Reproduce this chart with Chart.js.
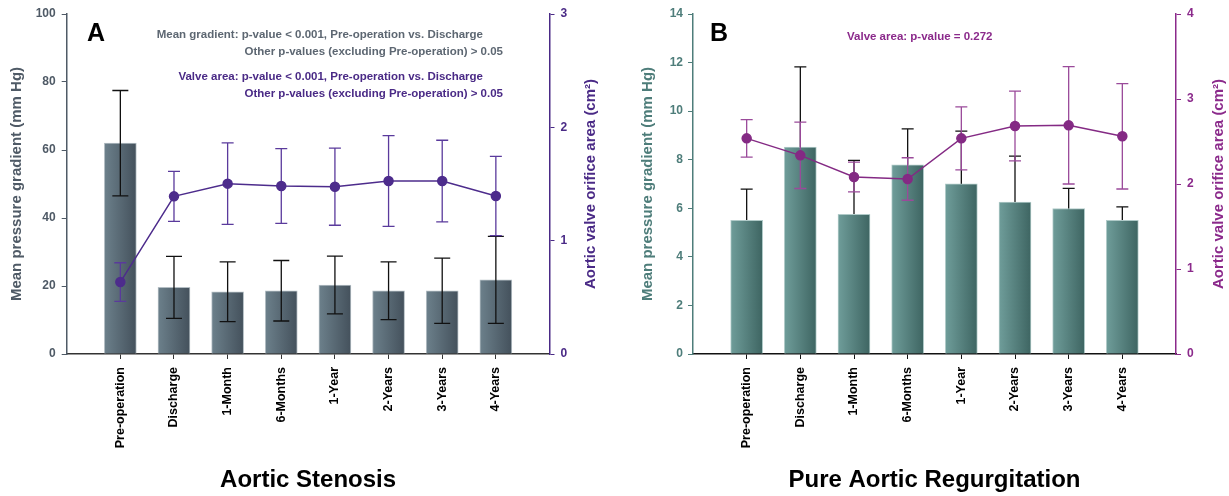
<!DOCTYPE html>
<html>
<head>
<meta charset="utf-8">
<script src="https://cdn.jsdelivr.net/npm/chart.js@4/dist/chart.umd.min.js"></script>
<style>
  body { margin: 0; background: #fff; }
  .panel { position: absolute; top: 0; height: 496px; }
</style>
</head>
<body>
<div class="panel" style="left:0;width:620px"><canvas id="chartA" width="620" height="496"></canvas></div>
<div class="panel" style="left:620px;width:609px"><canvas id="chartB" width="609" height="496"></canvas></div>
<script>
const categories = ['Pre-operation', 'Discharge', '1-Month', '6-Months', '1-Year', '2-Years', '3-Years', '4-Years'];

// A: aortic stenosis
const asGradient = [62.0, 19.6, 18.3, 18.6, 20.3, 18.6, 18.6, 21.8];
const asGradientSd = [15.5, 9.1, 8.8, 8.9, 8.5, 8.5, 9.6, 12.8];
const asArea = [0.635, 1.391, 1.503, 1.482, 1.476, 1.526, 1.526, 1.394];
const asAreaSd = [0.17, 0.22, 0.36, 0.33, 0.34, 0.40, 0.36, 0.35];

// B: pure aortic regurgitation
const arGradient = [5.50, 8.52, 5.75, 7.79, 7.01, 6.26, 5.99, 5.50];
const arGradientSd = [1.29, 3.30, 2.22, 1.48, 2.17, 1.89, 0.83, 0.56];
const arArea = [2.537, 2.337, 2.082, 2.059, 2.537, 2.682, 2.690, 2.561];
const arAreaSd = [0.22, 0.39, 0.175, 0.25, 0.37, 0.41, 0.69, 0.62];

const gradientTicksA = [0, 20, 40, 60, 80, 100];
const areaTicksA = [0, 1, 2, 3];
const gradientTicksB = [0, 2, 4, 6, 8, 10, 12, 14];
const areaTicksB = [0, 1, 2, 3, 4];

const FONT = 'Liberation Sans, Arial, sans-serif';

// draws mean +/- sd whiskers for a dataset, before or after the dataset itself
function drawErr(chart, args, when) {
  const ds = chart.data.datasets[args.index];
  if (!ds.err || ds.errWhen !== when) return;
  const ys = chart.scales[args.meta.yAxisID];
  const ctx = chart.ctx;
  ctx.save();
  ctx.strokeStyle = ds.errColor;
  ctx.lineWidth = ds.errWidth;
  args.meta.data.forEach((el, i) => {
    const v = ds.data[i].y, e = ds.err[i];
    const top = ys.getPixelForValue(v + e), bot = ys.getPixelForValue(v - e);
    const h = ds.capWidth / 2;
    ctx.beginPath();
    ctx.moveTo(el.x, top); ctx.lineTo(el.x, bot);
    ctx.moveTo(el.x - h, top); ctx.lineTo(el.x + h, top);
    ctx.moveTo(el.x - h, bot); ctx.lineTo(el.x + h, bot);
    ctx.stroke();
  });
  ctx.restore();
}

const errorBars = {
  id: 'errorBars',
  beforeDatasetDraw(chart, args) { drawErr(chart, args, 'before'); },
  afterDatasetDraw(chart, args) { drawErr(chart, args, 'after'); }
};

// right axis title reads bottom-to-top, and free text notes
const extras = {
  id: 'extras',
  afterDraw(chart, args, opts) {
    const ctx = chart.ctx;
    ctx.save();
    const s = chart.scales.y2;
    ctx.translate(s.left + opts.sideOffset, (s.top + s.bottom) / 2);
    ctx.rotate(-Math.PI / 2);
    ctx.textAlign = 'center';
    ctx.textBaseline = 'middle';
    ctx.fillStyle = opts.sideColor;
    ctx.font = 'bold 15px ' + FONT;
    ctx.fillText(opts.sideText, 0, 0);
    ctx.restore();
    opts.notes.forEach(n => {
      ctx.save();
      ctx.font = n.font;
      ctx.fillStyle = n.color;
      ctx.textAlign = n.align || 'left';
      ctx.textBaseline = 'middle';
      ctx.fillText(n.text, n.x, n.y);
      ctx.restore();
    });
  }
};

function makePanel(id, p) {
  return new Chart(document.getElementById(id), {
    data: {
      datasets: [
        {
          type: 'line',
          order: 0,
          yAxisID: 'y2',
          data: p.area.map((v, i) => ({ x: i, y: v })),
          borderColor: p.lineColor,
          borderWidth: 1.5,
          pointBackgroundColor: p.lineColor,
          pointBorderColor: p.lineColor,
          pointRadius: 4.5,
          err: p.areaSd, errWhen: 'before', errColor: p.errLineColor, errWidth: 1.3, capWidth: 12
        },
        {
          type: 'bar',
          order: 1,
          yAxisID: 'y',
          data: p.gradient.map((v, i) => ({ x: i, y: v })),
          barThickness: 32,
          backgroundColor: c => {
            const chart = c.chart;
            const x = chart.scales.x ? chart.scales.x.getPixelForValue(c.dataIndex) : NaN;
            if (!isFinite(x)) return p.barDark;
            const g = chart.ctx.createLinearGradient(x - 16, 0, x + 16, 0);
            g.addColorStop(0, p.barLight);
            g.addColorStop(1, p.barDark);
            return g;
          },
          borderColor: p.barEdge,
          borderWidth: 1,
          err: p.gradientSd, errWhen: p.barErrWhen, errColor: '#111', errWidth: 1.3, capWidth: p.barCap
        }
      ]
    },
    options: {
      responsive: false,
      animation: false,
      layout: { padding: { top: 14, left: 0, right: 0, bottom: 0 } },
      plugins: {
        legend: { display: false },
        tooltip: { enabled: false },
        extras: { sideText: 'Aortic valve orifice area (cm\u00B2)', sideColor: p.rightColor, sideOffset: p.sideOffset, notes: p.notes }
      },
      scales: {
        x: {
          type: 'linear',
          min: -1, max: 8,
          offset: false,
          afterBuildTicks: s => { s.ticks = categories.map((c, i) => ({ value: i })); },
          afterFit: s => { s.height = 142; },
          ticks: {
            callback: v => categories[v],
            autoSkip: false, minRotation: 90, maxRotation: 90,
            color: '#000', font: { family: FONT, weight: 'bold', size: 12.5 }, padding: 8
          },
          grid: { offset: false, drawOnChartArea: false, drawTicks: true, tickLength: 5, color: p.xAxisColor },
          border: { color: p.xAxisColor, width: 1.5 },
          title: { display: true, text: p.title, color: '#000', font: { family: FONT, weight: 'bold', size: 24 }, padding: { top: 0, bottom: 1 } }
        },
        y: {
          position: 'left',
          min: 0, max: p.gradientTicks[p.gradientTicks.length - 1],
          afterBuildTicks: s => { s.ticks = p.gradientTicks.map(v => ({ value: v })); },
          afterFit: s => { s.width = p.leftWidth; },
          ticks: { color: p.leftColor, font: { family: FONT, weight: 'bold', size: 12 }, padding: p.leftPad },
          grid: { drawOnChartArea: false, tickLength: 5, color: p.leftColor },
          border: { color: p.leftColor, width: 1.5 },
          title: { display: true, text: 'Mean pressure gradient (mm Hg)', color: p.leftColor, font: { family: FONT, weight: 'bold', size: 15 }, padding: { top: p.leftTitlePad } }
        },
        y2: {
          position: 'right',
          min: 0, max: p.areaTicks[p.areaTicks.length - 1],
          afterBuildTicks: s => { s.ticks = p.areaTicks.map(v => ({ value: v })); },
          afterFit: s => { s.width = p.rightWidth; },
          ticks: { color: p.rightColor, font: { family: FONT, weight: 'bold', size: 12 }, padding: 6 },
          grid: { drawOnChartArea: false, tickLength: 5, color: p.rightColor },
          border: { color: p.rightColor, width: 1.5 }
        }
      }
    },
    plugins: [errorBars, extras]
  });
}

const noteFont = 'bold 11.5px ' + FONT;

makePanel('chartA', {
  gradient: asGradient, gradientSd: asGradientSd, area: asArea, areaSd: asAreaSd,
  gradientTicks: gradientTicksA, areaTicks: areaTicksA,
  title: 'Aortic Stenosis',
  barLight: '#6c808b', barDark: '#44515c', barEdge: '#b4bec4', barCap: 16, barErrWhen: 'after',
  lineColor: '#4d2c8c', errLineColor: '#5a3a9c',
  leftColor: '#4f5a66', rightColor: '#4a2a86', xAxisColor: '#333',
  leftWidth: 66.7, rightWidth: 70.5, leftPad: 6, leftTitlePad: 8, sideOffset: 41.5,
  notes: [
    { text: 'A', x: 87, y: 34, color: '#000', font: 'bold 25px ' + FONT },
    { text: 'Mean gradient: p-value < 0.001, Pre-operation vs. Discharge', x: 483, y: 35, color: '#5d6772', font: noteFont, align: 'right' },
    { text: 'Other p-values (excluding Pre-operation) > 0.05', x: 503, y: 52, color: '#5d6772', font: noteFont, align: 'right' },
    { text: 'Valve area: p-value < 0.001, Pre-operation vs. Discharge', x: 483, y: 77, color: '#4a2a86', font: noteFont, align: 'right' },
    { text: 'Other p-values (excluding Pre-operation) > 0.05', x: 503, y: 94, color: '#4a2a86', font: noteFont, align: 'right' }
  ]
});

makePanel('chartB', {
  gradient: arGradient, gradientSd: arGradientSd, area: arArea, areaSd: arAreaSd,
  gradientTicks: gradientTicksB, areaTicks: areaTicksB,
  title: 'Pure Aortic Regurgitation',
  barLight: '#6f9d9a', barDark: '#3e6562', barEdge: '#b0cac8', barCap: 12, barErrWhen: 'before',
  lineColor: '#842a84', errLineColor: '#9a4a9a',
  leftColor: '#4e7d7a', rightColor: '#8b2a8b', xAxisColor: '#111',
  leftWidth: 73, rightWidth: 53, leftPad: 5, leftTitlePad: 19, sideOffset: 43,
  notes: [
    { text: 'B', x: 90, y: 34, color: '#000', font: 'bold 25px ' + FONT },
    { text: 'Valve area: p-value = 0.272', x: 227, y: 37, color: '#8b2a8b', font: noteFont, align: 'left' }
  ]
});
</script>
</body>
</html>
